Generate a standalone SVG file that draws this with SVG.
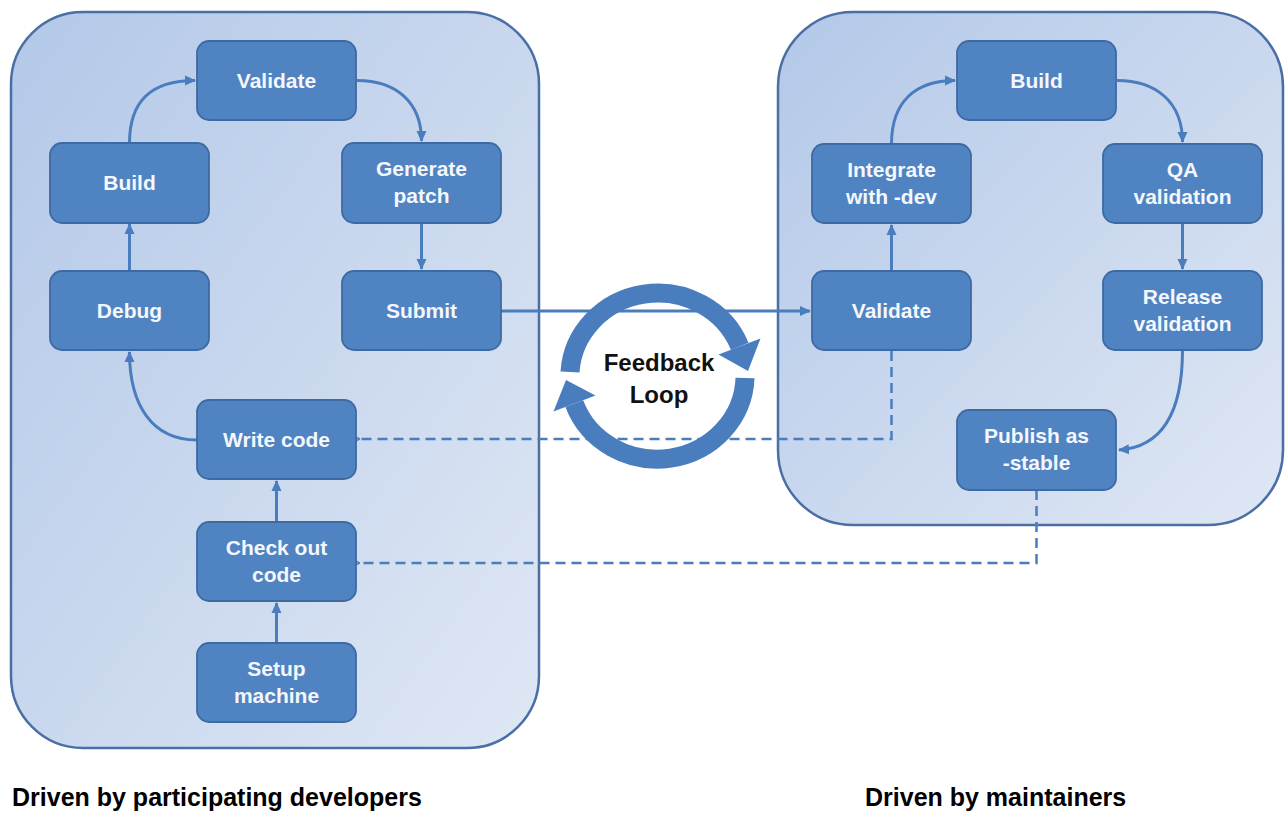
<svg xmlns="http://www.w3.org/2000/svg" width="1287" height="817" viewBox="0 0 1287 817">
  <defs>
    <linearGradient id="panelGrad" x1="0" y1="0" x2="1" y2="1">
      <stop offset="0" stop-color="#b3c8e8"/>
      <stop offset="1" stop-color="#dfe7f4"/>
    </linearGradient>
    <marker id="arr" markerUnits="userSpaceOnUse" markerWidth="12" markerHeight="12" refX="10" refY="6" orient="auto">
      <path d="M0,1 L11,6 L0,11 Z" fill="#4a7dbe"/>
    </marker>
    <marker id="arrS" markerUnits="userSpaceOnUse" markerWidth="10" markerHeight="10" refX="2" refY="5" orient="auto">
      <path d="M9,1 L0,5 L9,9" fill="none" stroke="#4a7dbe" stroke-width="1.5"/>
    </marker>
  </defs>
  <style>
    .panel { fill: url(#panelGrad); stroke: #4a6fa5; stroke-width: 2.5; }
    .node rect { fill: #5083c2; stroke: #3e6aa3; stroke-width: 1.8; }
    .node text { fill: #f4f7fc; font-family: "Liberation Sans", Arial, sans-serif; font-weight: bold; font-size: 21px; text-anchor: middle; }
    .conn { fill: none; stroke: #4a7dbe; stroke-width: 3; }
    .dash { fill: none; stroke: #4a7dbe; stroke-width: 2.5; stroke-dasharray: 10 6; }
    .caption { fill: #000; font-family: "Liberation Sans", Arial, sans-serif; font-weight: bold; font-size: 25px; }
    .loop { fill: none; stroke: #4a7dbe; stroke-width: 19; }
    .loophead { fill: #4a7dbe; }
    .looptext { fill: #111; font-family: "Liberation Sans", Arial, sans-serif; font-weight: bold; font-size: 24px; text-anchor: middle; }
  </style>
  <rect width="1287" height="817" fill="#ffffff"/>

  <g id="panels">
    <rect id="panel-developers" class="panel" x="11" y="12" width="528" height="736" rx="72" ry="72"/>
    <rect id="panel-maintainers" class="panel" x="778" y="12" width="505" height="513" rx="75" ry="75"/>
  </g>

  <g id="connectors">
    <path class="conn" d="M129.5,143 C129.5,102 150,80.5 195,80.5" marker-end="url(#arr)"/>
    <path class="conn" d="M357,80.5 C396,80.5 421.5,102 421.5,141" marker-end="url(#arr)"/>
    <path class="conn" d="M421.5,222 L421.5,269" marker-end="url(#arr)"/>
    <path class="conn" d="M129.5,271 L129.5,224" marker-end="url(#arr)"/>
    <path class="conn" d="M197,440 C152,440 129.5,405 129.5,352" marker-end="url(#arr)"/>
    <path class="conn" d="M276.5,522 L276.5,481" marker-end="url(#arr)"/>
    <path class="conn" d="M276.5,643 L276.5,603" marker-end="url(#arr)"/>
    <path class="conn" d="M501,311 L810,311" marker-end="url(#arr)"/>
    <path class="conn" d="M891.5,271 L891.5,225" marker-end="url(#arr)"/>
    <path class="conn" d="M891.5,144 C891.5,102 915,80.5 955,80.5" marker-end="url(#arr)"/>
    <path class="conn" d="M1117,80.5 C1156,80.5 1182.5,102 1182.5,142" marker-end="url(#arr)"/>
    <path class="conn" d="M1182.5,223 L1182.5,269" marker-end="url(#arr)"/>
    <path class="conn" d="M1182.5,350 C1182.5,412 1162,447 1119,450" marker-end="url(#arr)"/>
    <path class="dash" d="M891.5,351 L891.5,439 L358,439" marker-end="url(#arrS)"/>
    <path class="dash" d="M1036.5,490 L1036.5,563 L358,563" marker-end="url(#arrS)"/>
  </g>

  <g id="node-validate-dev" class="node"><rect x="197" y="41" width="159" height="79" rx="12"/><text x="276.5" y="88">Validate</text></g>
  <g id="node-build-dev" class="node"><rect x="50" y="143" width="159" height="80" rx="12"/><text x="129.5" y="190">Build</text></g>
  <g id="node-generate-patch" class="node"><rect x="342" y="143" width="159" height="80" rx="12"/><text x="421.5" y="176">Generate</text><text x="421.5" y="203">patch</text></g>
  <g id="node-debug" class="node"><rect x="50" y="271" width="159" height="79" rx="12"/><text x="129.5" y="318">Debug</text></g>
  <g id="node-submit" class="node"><rect x="342" y="271" width="159" height="79" rx="12"/><text x="421.5" y="318">Submit</text></g>
  <g id="node-write-code" class="node"><rect x="197" y="400" width="159" height="79" rx="12"/><text x="276.5" y="447">Write code</text></g>
  <g id="node-check-out" class="node"><rect x="197" y="522" width="159" height="79" rx="12"/><text x="276.5" y="555">Check out</text><text x="276.5" y="582">code</text></g>
  <g id="node-setup" class="node"><rect x="197" y="643" width="159" height="79" rx="12"/><text x="276.5" y="676">Setup</text><text x="276.5" y="703">machine</text></g>

  <g id="node-build-main" class="node"><rect x="957" y="41" width="159" height="79" rx="12"/><text x="1036.5" y="88">Build</text></g>
  <g id="node-integrate" class="node"><rect x="812" y="144" width="159" height="79" rx="12"/><text x="891.5" y="177">Integrate</text><text x="891.5" y="204">with -dev</text></g>
  <g id="node-qa" class="node"><rect x="1103" y="144" width="159" height="79" rx="12"/><text x="1182.5" y="177">QA</text><text x="1182.5" y="204">validation</text></g>
  <g id="node-validate-main" class="node"><rect x="812" y="271" width="159" height="79" rx="12"/><text x="891.5" y="318">Validate</text></g>
  <g id="node-release" class="node"><rect x="1103" y="271" width="159" height="79" rx="12"/><text x="1182.5" y="304">Release</text><text x="1182.5" y="331">validation</text></g>
  <g id="node-publish" class="node"><rect x="957" y="410" width="159" height="80" rx="12"/><text x="1036.5" y="443">Publish as</text><text x="1036.5" y="470">-stable</text></g>

  <g id="feedback-loop">
    <path class="loop" d="M570,372 A88,84 0 0 1 739.7,346.3"/>
    <polygon class="loophead" points="718.5,354.5 760.5,338.5 748,371"/>
    <path class="loop" d="M745,378 A88,84 0 0 1 574.3,403.7"/>
    <polygon class="loophead" points="595.5,395.5 553.5,411.5 566,380"/>
    <text class="looptext" x="659" y="371">Feedback</text>
    <text class="looptext" x="659" y="403">Loop</text>
  </g>

  <g id="captions">
    <text class="caption" x="12" y="806">Driven by participating developers</text>
    <text class="caption" x="865" y="806">Driven by maintainers</text>
  </g>
</svg>
